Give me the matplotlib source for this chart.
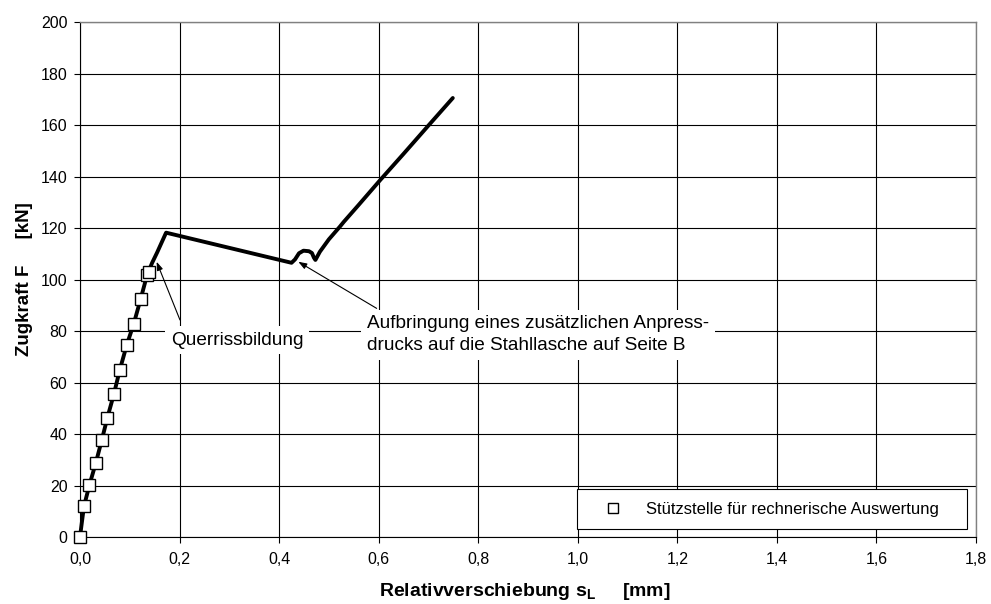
import numpy as np
import matplotlib
matplotlib.use("Agg")
import matplotlib.pyplot as plt

plt.rcParams['font.family'] = ['Liberation Sans', 'DejaVu Sans']
plt.rcParams['mathtext.fontset'] = 'custom'
plt.rcParams['mathtext.rm'] = 'Liberation Sans'
plt.rcParams['mathtext.bf'] = 'Liberation Sans:bold'

# measured curve: Relativverschiebung s_L [mm] vs Zugkraft F [kN]
curve_x = [0.0, 0.004, 0.008, 0.019, 0.032, 0.044, 0.055, 0.068, 0.080, 0.094,
           0.108, 0.122, 0.135, 0.145, 0.155, 0.173, 0.30, 0.425, 0.432,
           0.440, 0.449, 0.460, 0.466, 0.470, 0.473, 0.482, 0.50, 0.522,
           0.530, 0.560, 0.603, 0.650, 0.700, 0.749]
curve_y = [0.0, 6.0, 11.9, 20.2, 28.9, 37.8, 46.3, 55.4, 64.9, 74.6,
           82.8, 92.5, 101.9, 106.5, 110.5, 118.2, 112.3, 106.5, 107.8,
           110.2, 111.2, 111.0, 110.3, 108.5, 107.6, 110.8, 115.6, 120.5,
           122.4, 129.0, 138.6, 148.8, 159.8, 170.5]

# support points (Stützstellen)
pts_x = [0.0, 0.008, 0.019, 0.032, 0.044, 0.055, 0.068, 0.080, 0.094, 0.108,
         0.122, 0.135, 0.139]
pts_y = [0.0, 11.9, 20.2, 28.9, 37.8, 46.3, 55.4, 64.9, 74.6, 82.8,
         92.5, 101.9, 102.9]

xticks = np.arange(0, 1.81, 0.2)
yticks = np.arange(0, 201, 20)

fig = plt.figure(figsize=(9.91, 6.04), dpi=100)
ax = fig.add_axes([0.0807, 0.1109, 0.9041, 0.8526])

ax.plot(curve_x, curve_y, '-', color='black', lw=2.8, zorder=3,
        solid_capstyle='round', solid_joinstyle='round', clip_on=False)
ax.plot(pts_x, pts_y, 's', ms=8, mfc='white', mec='black', mew=1.0,
        zorder=4, clip_on=False, label='Stützstelle für rechnerische Auswertung')

ax.set_xlim(0, 1.8)
ax.set_ylim(0, 200)
ax.set_xticks(xticks)
ax.set_yticks(yticks)
ax.set_xticklabels([('%.1f' % v).replace('.', ',') for v in xticks])
ax.set_yticklabels(['%d' % v for v in yticks])
ax.grid(True, color='black', lw=0.8, zorder=0)
ax.set_axisbelow(True)
ax.tick_params(direction='out', length=4, width=0.8, labelsize=11.5)
ax.tick_params(axis='x', pad=7)
ax.tick_params(axis='y', pad=5)
for s in ['left', 'bottom']:
    ax.spines[s].set_color('black')
    ax.spines[s].set_linewidth(0.8)
for s in ['top', 'right']:
    ax.spines[s].set_color('#808080')
    ax.spines[s].set_linewidth(1.0)

ax.set_xlabel('Relativverschiebung ' + r'$\mathbf{s_L}$' + '     [mm]',
              fontsize=14, fontweight='bold')
ax.set_ylabel('Zugkraft F     [kN]', fontsize=13.5, fontweight='bold')
ax.xaxis.set_label_coords(0.497, -0.086)
ax.yaxis.set_label_coords(-0.052, 0.5)

# annotations
ax.annotate('', xy=(0.154, 106.9), xytext=(0.2009, 84.3),
            arrowprops=dict(arrowstyle='-|>,head_length=0.5,head_width=0.18',
                            color='black', lw=0.8, shrinkA=0, shrinkB=0),
            zorder=6)
ax.text(0.316, 76.5, 'Querrissbildung', fontsize=13.7, ha='center', va='center',
        bbox=dict(boxstyle='square,pad=0.3', fc='white', ec='none'), zorder=5)

ax.annotate('', xy=(0.4386, 106.9), xytext=(0.596, 88.8),
            arrowprops=dict(arrowstyle='-|>,head_length=0.5,head_width=0.18',
                            color='black', lw=0.8, shrinkA=0, shrinkB=0),
            zorder=6)
ax.text(0.5766, 78.6, 'Aufbringung eines zusätzlichen Anpress-\ndrucks auf die Stahllasche auf Seite B',
        fontsize=13.7, ha='left', va='center', linespacing=1.35,
        bbox=dict(boxstyle='square,pad=0.3', fc='white', ec='none'), zorder=5)

leg = ax.legend(loc='center left', bbox_to_anchor=(0.5547, 0.0136, 0.4353, 0.0815),
                mode='expand', borderaxespad=0, fancybox=False, edgecolor='black',
                framealpha=1, fontsize=12, handlelength=2.8, handletextpad=0.6,
                borderpad=0.75, markerscale=0.9)
leg.get_frame().set_linewidth(0.8)
leg.set_zorder(7)

fig.savefig('out.png', dpi=100)
